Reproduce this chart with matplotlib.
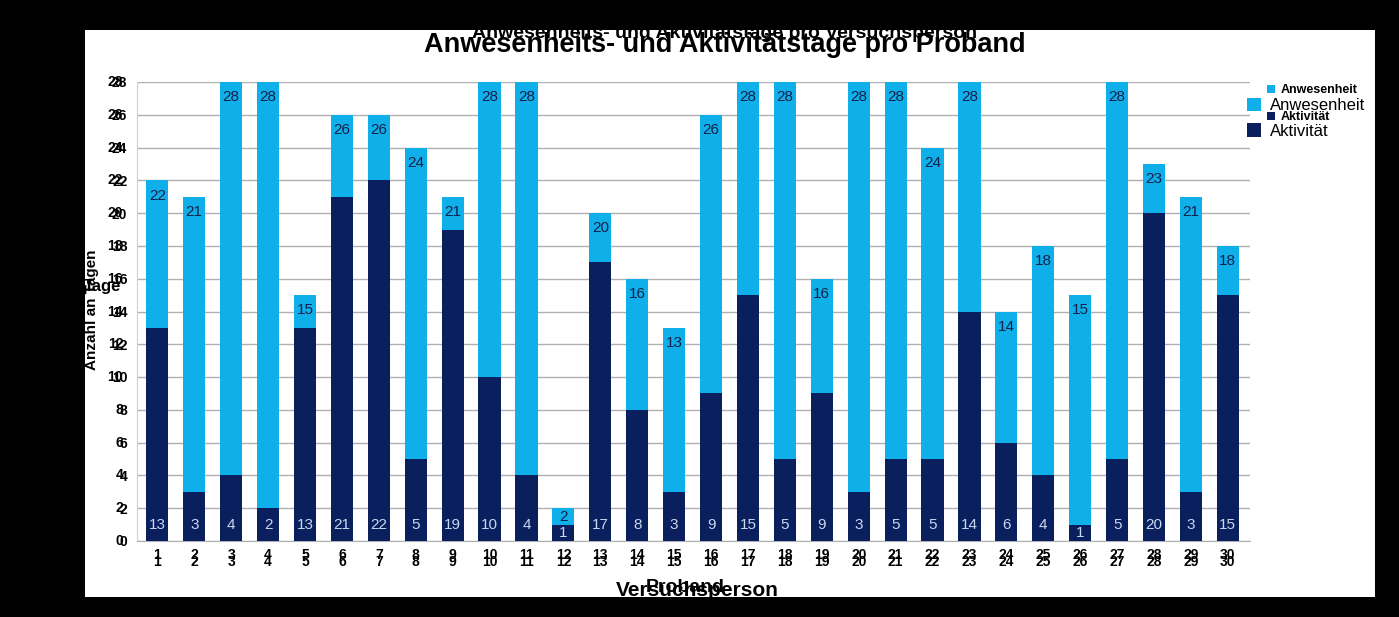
import numpy as np
import matplotlib
matplotlib.use('Agg')
import matplotlib.pyplot as plt
from matplotlib.patches import Rectangle

plt.rcParams['font.family'] = ['Liberation Sans Narrow', 'Liberation Sans', 'DejaVu Sans']

# Data
probanden = list(range(1, 31))
anwesenheit = [22, 21, 28, 28, 15, 26, 26, 24, 21, 28, 28, 2, 20, 16, 13,
               26, 28, 28, 16, 28, 28, 24, 28, 14, 18, 15, 28, 23, 21, 18]
aktivitaet = [13, 3, 4, 2, 13, 21, 22, 5, 19, 10, 4, 1, 17, 8, 3,
              9, 15, 5, 9, 3, 5, 5, 14, 6, 4, 1, 5, 20, 3, 15]
y_ticks = list(range(0, 29, 2))

light = '#0FB0EA'
dark = '#0A1F5E'

W, H = 1399, 617
fig = plt.figure(figsize=(W / 100, H / 100), dpi=100, facecolor='black')
# white chart area inside the black frame
fig.patches.append(Rectangle((85 / W, 1 - 597 / H), (1375 - 85) / W, (597 - 30) / H,
                             transform=fig.transFigure, facecolor='white',
                             edgecolor='none', zorder=-5))

ax = fig.add_axes([137 / W, 1 - 541 / H, (1250 - 137) / W, (541 - 82) / H])
ax.set_facecolor('none')

x = np.array(probanden)
b1 = ax.bar(x, anwesenheit, width=0.6, color=light, zorder=2, label='Anwesenheit')
b2 = ax.bar(x, aktivitaet, width=0.6, color=dark, zorder=3, label='Aktivität')

for xi, tot, act in zip(x, anwesenheit, aktivitaet):
    ax.annotate(str(tot), (xi, tot), xytext=(0, -6 if tot > 2 else -1),
                textcoords='offset points', ha='center', va='top',
                fontsize=11, color='#14204a', zorder=4)
    ax.text(xi, min(act, 2) / 2, str(act), ha='center', va='center',
            fontsize=11, color='#c8d8f0', zorder=4)

ax.set_xlim(0.45, 30.6)
ax.set_ylim(0, 28)
ax.set_yticks(y_ticks)
ax.set_yticklabels([])
ax.set_xticks(x)
ax.set_xticklabels([])
ax.tick_params(length=0)
ax.grid(axis='y', color='#b0b0b0', lw=1, zorder=0)
for s in ['top', 'right']:
    ax.spines[s].set_visible(False)
ax.spines['left'].set_color('#d0d0d0')
ax.spines['bottom'].set_color('#b0b0b0')

# doubled tick labels (two overlaid renderings)
for t in y_ticks:
    for dx, dy in ((0, 0), (3, -1)):
        ax.annotate(str(t), (0.45, t), xytext=(-10 + dx, dy), textcoords='offset points',
                    ha='right', va='center', fontsize=10, fontweight='bold',
                    annotation_clip=False)
for xi in x:
    for dy in (-10, -15):
        ax.annotate(str(xi), (xi, 0), xytext=(0, dy), textcoords='offset points',
                    ha='center', va='center', fontsize=10, fontweight='bold',
                    annotation_clip=False)

# overlaid titles
fig.text(725 / W, 1 - 33 / H, 'Anwesenheits- und Aktivitätstage pro Versuchsperson',
         ha='center', va='center', fontsize=14, fontweight='bold')
fig.text(725 / W, 1 - 45 / H, 'Anwesenheits- und Aktivitätstage pro Proband',
         ha='center', va='center', fontsize=19.5, fontweight='bold')

# overlaid axis labels
fig.text(697 / W, 1 - 590 / H, 'Versuchsperson', ha='center', va='center',
         fontsize=15, fontweight='bold')
fig.text(685 / W, 1 - 588 / H, 'Proband', ha='center', va='center',
         fontsize=14, fontweight='bold')
fig.text(92 / W, 1 - 310 / H, 'Anzahl an Tagen', ha='center', va='center',
         rotation=90, fontsize=11, fontweight='bold')
fig.text(103 / W, 1 - 287 / H, 'Tage', ha='center', va='center',
         fontsize=12, fontweight='bold')

# two overlaid legends
leg1 = ax.legend(handles=[b1, b2], loc='upper left', bbox_to_anchor=(1247 / W, 1 - 98 / H),
                 bbox_transform=fig.transFigure, frameon=False,
                 handlelength=0.85, handleheight=0.85, handletextpad=0.5,
                 labelspacing=0.6, borderaxespad=0, borderpad=0,
                 prop={'size': 12})
ax.add_artist(leg1)
ax.legend(handles=[b1, b2], loc='upper left', bbox_to_anchor=(1267 / W, 1 - 84 / H),
          bbox_transform=fig.transFigure, frameon=False,
          handlelength=0.6, handleheight=0.6, handletextpad=0.5,
          labelspacing=1.2, borderaxespad=0, borderpad=0,
          prop={'weight': 'bold', 'size': 9})

fig.savefig('out.png', dpi=100, facecolor=fig.get_facecolor())
